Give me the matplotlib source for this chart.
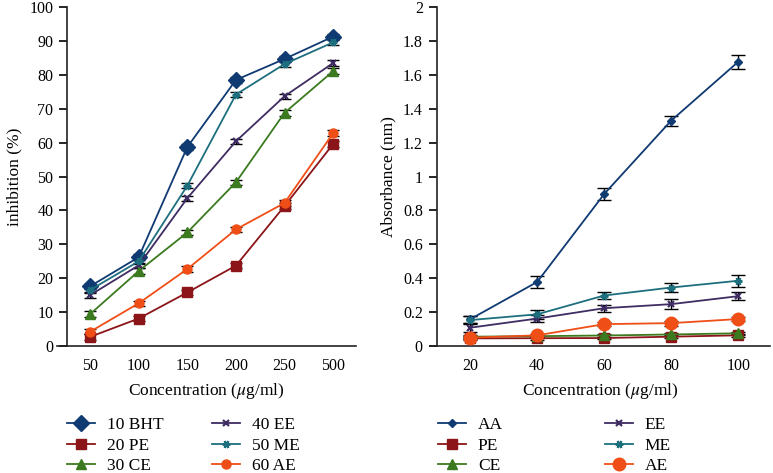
import matplotlib
matplotlib.use("Agg")
import matplotlib.pyplot as plt
from matplotlib.lines import Line2D
from matplotlib.ticker import FuncFormatter

plt.rcParams["font.family"] = ["Liberation Serif", "DejaVu Serif"]
plt.rcParams["mathtext.fontset"] = "stix"

# left panel: inhibition (%)
conc_left = ["50", "100", "150", "200", "250", "500"]
bht = [17.6, 26.2, 58.7, 78.5, 84.7, 91.3]
pe = [2.7, 8.1, 15.8, 23.7, 41.3, 59.6]
ce = [9.4, 22.1, 33.5, 48.3, 68.8, 81.1]
ee = [15.0, 23.8, 43.6, 60.4, 73.7, 83.5]
me = [16.5, 25.0, 47.3, 74.2, 83.2, 89.6]
ae = [4.2, 12.6, 22.7, 34.4, 42.2, 62.8]
err_left = [0.8, 0.8, 0.8, 0.8, 0.8, 0.8]
labels_left = ["10 BHT", "20 PE", "30 CE", "40 EE", "50 ME", "60 AE"]

# right panel: absorbance (nm)
conc_right = [20, 40, 60, 80, 100]
aa = [0.158, 0.378, 0.897, 1.33, 1.677]
pe_r = [0.045, 0.046, 0.047, 0.055, 0.063]
ce_r = [0.055, 0.058, 0.062, 0.068, 0.075]
ee_r = [0.108, 0.162, 0.223, 0.247, 0.294]
me_r = [0.153, 0.187, 0.298, 0.345, 0.385]
ae_r = [0.049, 0.063, 0.129, 0.135, 0.159]
err_aa = [0.02, 0.035, 0.035, 0.03, 0.04]
err_pe_r = [0.008, 0.008, 0.008, 0.008, 0.008]
err_ce_r = [0.008, 0.008, 0.008, 0.01, 0.01]
err_ee_r = [0.025, 0.02, 0.02, 0.03, 0.025]
err_me_r = [0.025, 0.025, 0.02, 0.025, 0.035]
err_ae_r = [0.01, 0.01, 0.012, 0.015, 0.012]
labels_right = ["AA", "PE", "CE", "EE", "ME", "AE"]

colors = ["#0f3a72", "#8b1518", "#3b7a1f", "#3e2c62", "#1d6f7e", "#f04e17"]
star = (6, 2, 90)

fig = plt.figure(figsize=(7.73, 4.73), dpi=100)
ax1 = fig.add_axes([57 / 773, 0.2685, 299 / 773, 0.7165])
ax2 = fig.add_axes([430 / 773, 0.2685, 340 / 773, 0.7165])


def draw(ax, x, series, errs, marks, labels, cap):
    handles = []
    for y, e, c, (m, ms), lab in zip(series, errs, colors, marks, labels):
        mew = 1.6 if m in ("x", star) else 1
        ax.errorbar(x, y, yerr=e, fmt="none", ecolor="black",
                    elinewidth=1, capsize=cap, capthick=1, zorder=2)
        ax.plot(x, y, color=c, marker=m, markersize=ms, mew=mew, lw=1.3, zorder=3)
        handles.append(Line2D([], [], color=c, marker=m, markersize=ms,
                              mew=mew, lw=1.3, label=lab))
    return handles


xs = list(range(len(conc_left)))
left_mk = [("D", 8.5), ("s", 6.5), ("^", 6.5), ("x", 4.5), (star, 5.5), ("o", 6.5)]
h1 = draw(ax1, xs, [bht, pe, ce, ee, me, ae], [err_left] * 6, left_mk, labels_left, 4)

right_mk = [("D", 4), ("s", 6.5), ("^", 6.5), ("x", 4.5), (star, 5.5), ("o", 9)]
h2 = draw(ax2, conc_right, [aa, pe_r, ce_r, ee_r, me_r, ae_r],
          [err_aa, err_pe_r, err_ce_r, err_ee_r, err_me_r, err_ae_r],
          right_mk, labels_right, 5)

ax1.set_xlim(-0.68, 5.47)
ax1.set_ylim(0, 100)
ax1.set_xticks(xs)
ax1.set_xticklabels(conc_left)
ax1.set_yticks(range(0, 101, 10))
ax1.spines["left"].set_position(("data", -0.47))
ax1.set_ylabel("inhibition (%)", fontsize=12.5, labelpad=5)

ax2.set_xlim(8, 109.5)
ax2.set_ylim(0, 2)
ax2.set_xticks(conc_right)
ax2.set_yticks([i * 0.2 for i in range(11)])
ax2.yaxis.set_major_formatter(FuncFormatter(lambda v, p: "%g" % round(v, 1)))
ax2.spines["left"].set_position(("data", 10))
ax2.set_ylabel("Absorbance (nm)", fontsize=12.5, labelpad=5)

for ax in (ax1, ax2):
    for s in ("top", "right"):
        ax.spines[s].set_visible(False)
    for s in ("left", "bottom"):
        ax.spines[s].set_linewidth(1.2)
        ax.spines[s].set_color("#222222")
    ax.tick_params(axis="x", length=0, labelsize=11.5, pad=9)
    ax.tick_params(axis="y", length=6, width=1.2, labelsize=11.5, pad=4)
    ax.set_xlabel(r"Concentration ($\mu$g/ml)", fontsize=12.5, labelpad=5)

legend_cols = [(h1[:3], 67), (h1[3:], 212), (h2[:3], 438), (h2[3:], 605)]
for handles, x0 in legend_cols:
    leg = fig.legend(handles=handles, loc="upper left",
                     bbox_to_anchor=(x0 / 773, 1 - 417 / 473), frameon=False,
                     fontsize=12.5, handlelength=1.6, handletextpad=0.7,
                     labelspacing=0.25, borderpad=0, borderaxespad=0)

fig.savefig("out.png", dpi=100)
